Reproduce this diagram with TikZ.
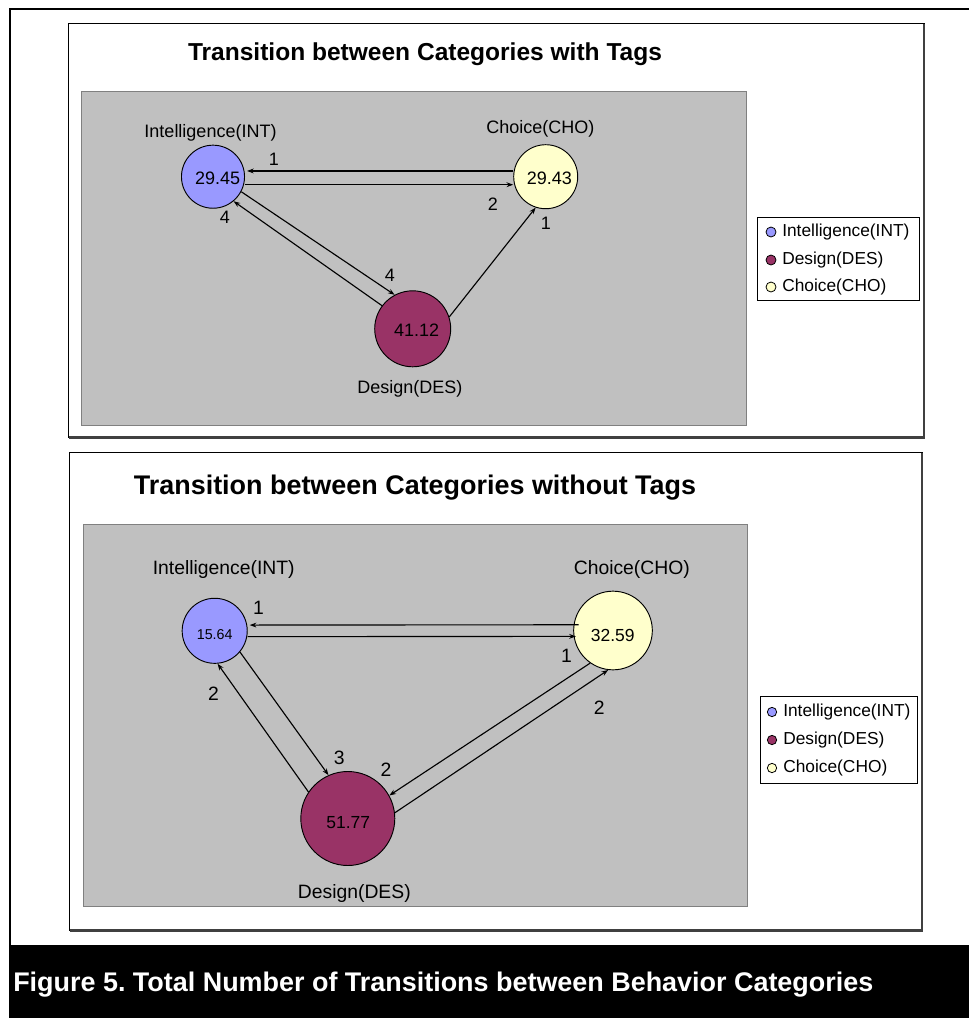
\documentclass[tikz,border=0pt]{standalone}
\usepackage{fontspec}
\setmainfont{Liberation Sans}
\usetikzlibrary{arrows.meta}
\frenchspacing
\definecolor{intc}{HTML}{9999FF}
\definecolor{desc}{HTML}{993366}
\definecolor{choc}{HTML}{FFFFCC}
\definecolor{plotgray}{HTML}{C0C0C0}
\definecolor{plotedge}{HTML}{808080}
\definecolor{shadowc}{HTML}{404040}
\begin{document}
\begin{tikzpicture}[x=0.75pt,y=-0.75pt,
  circ/.style={circle, draw=black, line width=0.7pt, inner sep=0pt},
  arr/.style={-{Stealth[length=5pt,width=3.6pt]}, line width=0.85pt},
  lblA/.style={font=\fontsize{13.5}{15}\selectfont, inner sep=0pt},
  lblB/.style={font=\fontsize{14.5}{16}\selectfont, inner sep=0pt},
  valA/.style={font=\fontsize{13.5}{15}\selectfont, inner sep=0pt},
  legtext/.style={font=\fontsize{13}{15}\selectfont, anchor=west, inner sep=0pt},
  legmark/.style={circle, draw=black, line width=0.6pt, inner sep=0pt, minimum size=7.5pt},
  titlefont/.style={font=\bfseries\fontsize{#1}{#1}\selectfont, inner sep=0pt, anchor=base}
]
\useasboundingbox (0,0) rectangle (969,1018);
% outer frame
\draw[line width=1.6pt] (10,1018) -- (10,9) -- (969,9);
% caption bar
\fill[black] (9,945) rectangle (969,1018);
\node[anchor=base west, text=white, inner sep=0pt, font=\bfseries\fontsize{20.2}{22}\selectfont] (cap) at (13,991) {Figure 5. Total Number of Transitions between Behavior Categories};

% ===== Panel 1 =====
\draw[line width=0.75pt, fill=white] (68,23) rectangle (924,437);
\draw[line width=1.6pt, shadowc] (924,24) -- (924,437.5) -- (69,437.5);
\node[titlefont=18.4] (t1) at (425,60) {Transition between Categories with Tags};
\filldraw[fill=plotgray, draw=plotedge, line width=0.75pt] (81,91) rectangle (746,425);

\node[circ, fill=intc, minimum size=47.3pt] (int1) at (213,176.7) {};
\node[circ, fill=choc, minimum size=48pt] (cho1) at (545.7,176.7) {};
\node[circ, fill=desc, minimum size=57pt] (des1) at (412.7,328.8) {};
\node[valA] at (217.6,178) {29.45};
\node[valA] at (549.4,178) {29.43};
\node[valA] at (416.7,330) {41.12};
\node[lblA] at (210.5,133.3) {Intelligence(INT)};
\node[lblA] at (540.4,129.3) {Choice(CHO)};
\node[lblA] at (409.8,389.3) {Design(DES)};

\draw[arr] ([yshift=4.3pt]cho1.west) -- ([yshift=4.3pt,xshift=1.5pt]int1.east);
\draw[arr] ([yshift=-6pt]int1.east) -- ([yshift=-6pt]cho1.west);
\draw[arr] (int1.-28) -- (des1.118);
\draw[arr] (des1.143) -- (int1.-50);
\draw[arr] (des1.18) -- (cho1.-108);
\node[lblA] at (274,159) {1};
\node[lblA] at (493,204) {2};
\node[lblA] at (225,217) {4};
\node[lblA] at (390,275) {4};
\node[lblA] at (546,223) {1};

% legend 1
\draw[line width=0.6pt, fill=white] (757,217) rectangle (919,300);
\node[legmark, fill=intc] (lg1a) at (771,232) {};
\node[legmark, fill=desc] (lg1b) at (771,260) {};
\node[legmark, fill=choc] (lg1c) at (771,287) {};
\node[legtext] at (782,232) {Intelligence(INT)};
\node[legtext] at (782,260) {Design(DES)};
\node[legtext] at (782,287) {Choice(CHO)};

% ===== Panel 2 =====
\draw[line width=0.75pt, fill=white] (69,452) rectangle (922,930);
\draw[line width=1.6pt, shadowc] (922,453) -- (922,930.5) -- (70,930.5);
\node[titlefont=20.2] (t2) at (415,494) {Transition between Categories without Tags};
\filldraw[fill=plotgray, draw=plotedge, line width=0.75pt] (83,524) rectangle (747,906);

\node[circ, fill=intc, minimum size=48.8pt] (int2) at (214.7,630.8) {};
\node[circ, fill=choc, minimum size=59pt] (cho2) at (613,630.5) {};
\node[circ, fill=desc, minimum size=70.5pt] (des2) at (347.8,818.5) {};
\node[font=\fontsize{10.7}{12}\selectfont, inner sep=0pt] at (214.7,635) {15.64};
\node[font=\fontsize{13.1}{15}\selectfont, inner sep=0pt] at (612.7,635) {32.59};
\node[font=\fontsize{13.1}{15}\selectfont, inner sep=0pt] at (348.2,823) {51.77};
\node[lblB] at (223.7,569) {Intelligence(INT)};
\node[lblB] at (631.8,569) {Choice(CHO)};
\node[lblB] at (354.3,893) {Design(DES)};

\draw[arr] ([yshift=4.3pt,xshift=4pt]cho2.west) -- ([yshift=4.3pt,xshift=1.5pt]int2.east);
\draw[arr] ([yshift=-4.4pt]int2.east) -- ([yshift=-4.4pt,xshift=2pt]cho2.west);
\draw[arr] (int2.-40) -- (des2.114);
\draw[arr] (des2.146) -- (int2.-85);
\draw[arr] (cho2.-125) -- (des2.29);
\draw[arr] (des2.7) -- (cho2.-97);
\node[lblB] at (258.4,608.3) {1};
\node[lblB] at (566.5,656) {1};
\node[lblB] at (213.5,694) {2};
\node[lblB] at (339.2,758.3) {3};
\node[lblB] at (386.1,769.3) {2};
\node[lblB] at (599.2,707.3) {2};

% legend 2
\draw[line width=0.6pt, fill=white] (760,696) rectangle (917,783);
\node[legmark, fill=intc, minimum size=7pt] (lg2a) at (772,712) {};
\node[legmark, fill=desc, minimum size=7pt] (lg2b) at (772,740) {};
\node[legmark, fill=choc, minimum size=7pt] (lg2c) at (772,768) {};
\node[legtext] at (783,712) {Intelligence(INT)};
\node[legtext] at (783,740) {Design(DES)};
\node[legtext] at (783,768) {Choice(CHO)};
\end{tikzpicture}
\end{document}
